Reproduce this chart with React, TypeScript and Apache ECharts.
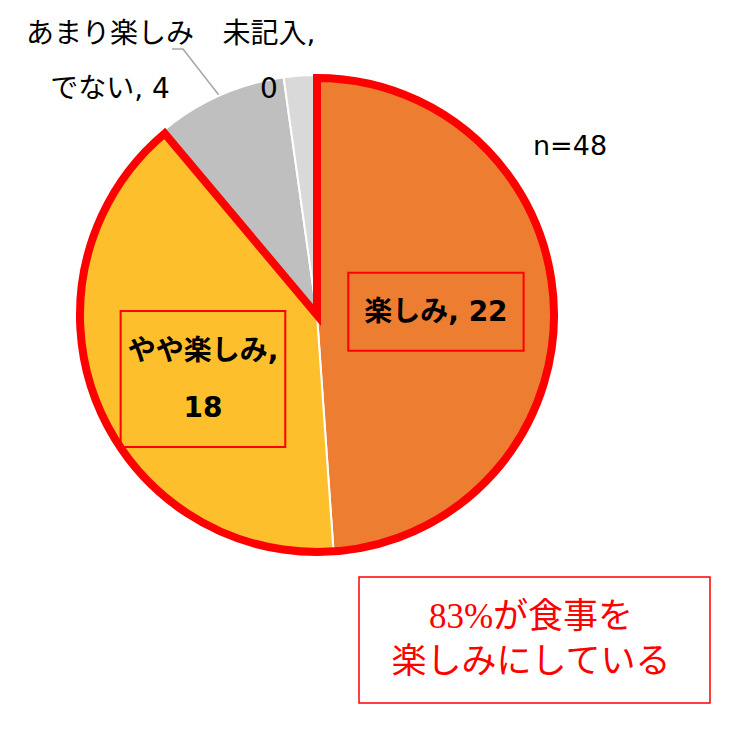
import { useEffect, useRef } from "react";
import * as echarts from "echarts";

type EChartsOption = echarts.EChartsOption;

// 食事を楽しみにしているか（n=48）
const categories = ["楽しみ", "やや楽しみ", "あまり楽しみ\nでない", "未記入"];
const sliceValues = [22, 18, 4, 1];
const labelCounts = [22, 18, 4, 0];
const sliceColors = ["#ED7D31", "#FEBF2C", "#BFBFBF", "#D9D9D9"];
const sampleSize = 48;
const enjoyShare = 83;

const FONT = '"DejaVu Sans", "Noto Sans CJK JP", sans-serif';

export default function App() {
  const chartRef = useRef<HTMLDivElement>(null);
  const chartInstance = useRef<echarts.ECharts | null>(null);

  useEffect(() => {
    if (!chartRef.current) return;
    document.body.style.margin = "0";

    chartInstance.current = echarts.init(chartRef.current, undefined, {
      renderer: "svg",
    });

    const center = [317, 315];

    const boxLabel = {
      show: true,
      position: "inside" as const,
      color: "#000",
      fontFamily: FONT,
      fontSize: 28,
      fontWeight: "bold" as const,
      borderColor: "#FF0000",
      borderWidth: 2,
    };

    const pieData = categories.map((name, i) => {
      const item: any = {
        name,
        value: sliceValues[i],
        itemStyle: { color: sliceColors[i] },
      };
      if (i === 0) {
        item.label = {
          ...boxLabel,
          formatter: `${name}, ${labelCounts[i]}`,
          lineHeight: 40,
          padding: [19, 16],
        };
        item.labelLine = { show: false };
      } else if (i === 1) {
        item.label = {
          ...boxLabel,
          formatter: `${name},\n${labelCounts[i]}`,
          lineHeight: 57,
          padding: [11, 7],
        };
        item.labelLine = { show: false };
      } else {
        const text = name.includes("\n")
          ? `${name}, ${labelCounts[i]}`
          : `${name},\n${labelCounts[i]}`;
        item.label = {
          show: true,
          position: "outside",
          formatter: text,
          color: "#000",
          fontFamily: FONT,
          fontSize: 28,
          lineHeight: 55,
          align: "center",
        };
        item.labelLine = {
          show: i === 2,
          lineStyle: { color: "#A6A6A6", width: 1.5 },
        };
      }
      return item;
    });

    // 楽しみ＋やや楽しみ を赤枠で囲む
    const outlineData = [
      {
        name: "楽しみ計",
        value: sliceValues[0] + sliceValues[1],
        itemStyle: {
          color: "rgba(0,0,0,0)",
          borderColor: "#FF0000",
          borderWidth: 8,
          borderJoin: "miter" as const,
        },
      },
      {
        name: "その他",
        value: sliceValues[2] + sliceValues[3],
        itemStyle: { color: "rgba(0,0,0,0)", borderWidth: 0 },
      },
    ];

    const option: EChartsOption = {
      animation: false,
      textStyle: { fontFamily: FONT },
      graphic: [
        {
          type: "text",
          left: 533,
          top: 132,
          style: {
            text: `n=${sampleSize}`,
            fontFamily: FONT,
            fontSize: 27,
            fill: "#000",
          },
        },
        {
          type: "rect",
          shape: { x: 359, y: 577, width: 351, height: 126 },
          style: { fill: "#fff", stroke: "#FF0000", lineWidth: 1.5 },
        },
        {
          type: "text",
          x: 531,
          y: 639,
          style: {
            text: `${enjoyShare}%が食事を\n楽しみにしている`,
            fontFamily: '"Liberation Serif", "Noto Sans CJK JP", serif',
            fontSize: 35,
            lineHeight: 45,
            fill: "#FF0000",
            align: "center",
            verticalAlign: "middle",
          },
        },
      ],
      series: [
        {
          type: "pie",
          center,
          radius: 240,
          startAngle: 90,
          clockwise: true,
          avoidLabelOverlap: false,
          silent: true,
          itemStyle: { borderColor: "#fff", borderWidth: 2 },
          emphasis: { disabled: true },
          data: pieData,
          labelLayout: (params: any) => {
            if (params.dataIndex === 0) return { dx: -4, dy: 1 };
            if (params.dataIndex === 1) return { dy: 18 };
            if (params.dataIndex === 2) {
              const p0 = params.labelLinePoints
                ? params.labelLinePoints[0]
                : [218, 93];
              return {
                x: 110,
                y: 61,
                align: "center",
                verticalAlign: "middle",
                labelLinePoints: [p0, [183, 49], [172, 49]],
              };
            }
            if (params.dataIndex === 3) {
              return { x: 269, y: 61, align: "center", verticalAlign: "middle" };
            }
            return {};
          },
        },
        {
          type: "pie",
          center,
          radius: 237,
          startAngle: 90,
          clockwise: true,
          silent: true,
          z: 3,
          label: { show: false },
          labelLine: { show: false },
          emphasis: { disabled: true },
          data: outlineData,
        },
      ],
    };

    chartInstance.current.setOption(option);

    const handleResize = () => {
      chartInstance.current?.resize();
    };
    window.addEventListener("resize", handleResize);

    return () => {
      window.removeEventListener("resize", handleResize);
      chartInstance.current?.dispose();
    };
  }, []);

  return (
    <div
      ref={chartRef}
      style={{ position: "absolute", left: 0, top: 0, width: 756, height: 750 }}
    />
  );
}
